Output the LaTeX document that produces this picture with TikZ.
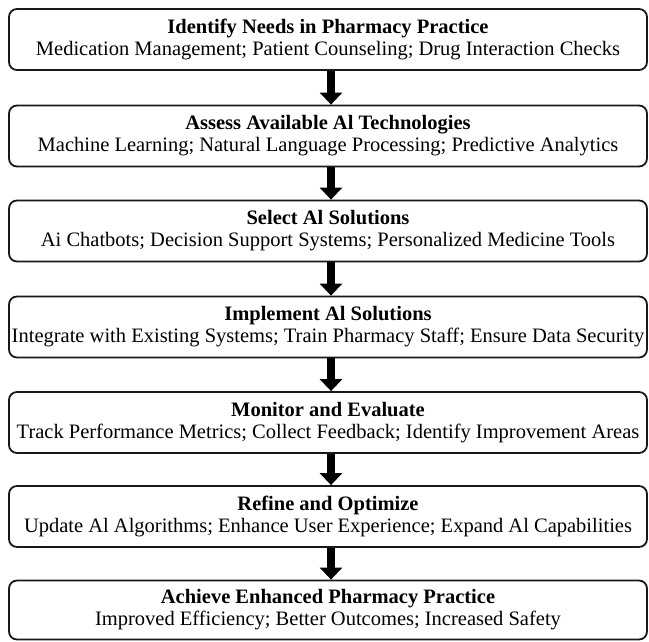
\documentclass[tikz,border=0pt]{standalone}
\usepackage{fontspec}
\setmainfont{Liberation Serif}
\usetikzlibrary{arrows.meta}
\begin{document}
\begin{tikzpicture}[x=1pt,y=-1pt,
  stagebox/.style={draw=black!90, line width=1.8pt, rounded corners=8pt,
    minimum width=638pt, minimum height=61pt, inner sep=0pt,
    align=center, font=\fontsize{20.5}{22}\selectfont, text=black},
  flowarrow/.style={draw=black, line width=8.5pt,
    -{Triangle[width=22pt,length=12pt]}}
]
\useasboundingbox (0,0) rectangle (649,641);
\fill[white] (0,0) rectangle (649,641);

\node[stagebox] (s1) at (328,39.5)
  {\textbf{Identify Needs in Pharmacy Practice}\\Medication Management; Patient Counseling; Drug Interaction Checks};
\node[stagebox] (s2) at (328,136)
  {\textbf{Assess Available Al Technologies}\\Machine Learning; Natural Language Processing; Predictive Analytics};
\node[stagebox] (s3) at (328,231)
  {\textbf{Select Al Solutions}\\Ai Chatbots; Decision Support Systems; Personalized Medicine Tools};
\node[stagebox] (s4) at (328,327)
  {\textbf{Implement Al Solutions}\\Integrate with Existing Systems; Train Pharmacy Staff; Ensure Data Security};
\node[stagebox] (s5) at (328,422.5)
  {\textbf{Monitor and Evaluate}\\Track Performance Metrics; Collect Feedback; Identify Improvement Areas};
\node[stagebox] (s6) at (328,516.5)
  {\textbf{Refine and Optimize}\\Update Al Algorithms; Enhance User Experience; Expand Al Capabilities};
\node[stagebox, minimum height=59pt] (s7) at (328,610)
  {\textbf{Achieve Enhanced Pharmacy Practice}\\Improved Efficiency; Better Outcomes; Increased Safety};

% arrows sit slightly right of the box centre line
\foreach \a/\b in {s1/s2,s2/s3,s3/s4,s4/s5,s5/s6,s6/s7}
  \draw[flowarrow] ([xshift=3pt]\a.south) -- ([xshift=3pt]\b.north);
\end{tikzpicture}
\end{document}
